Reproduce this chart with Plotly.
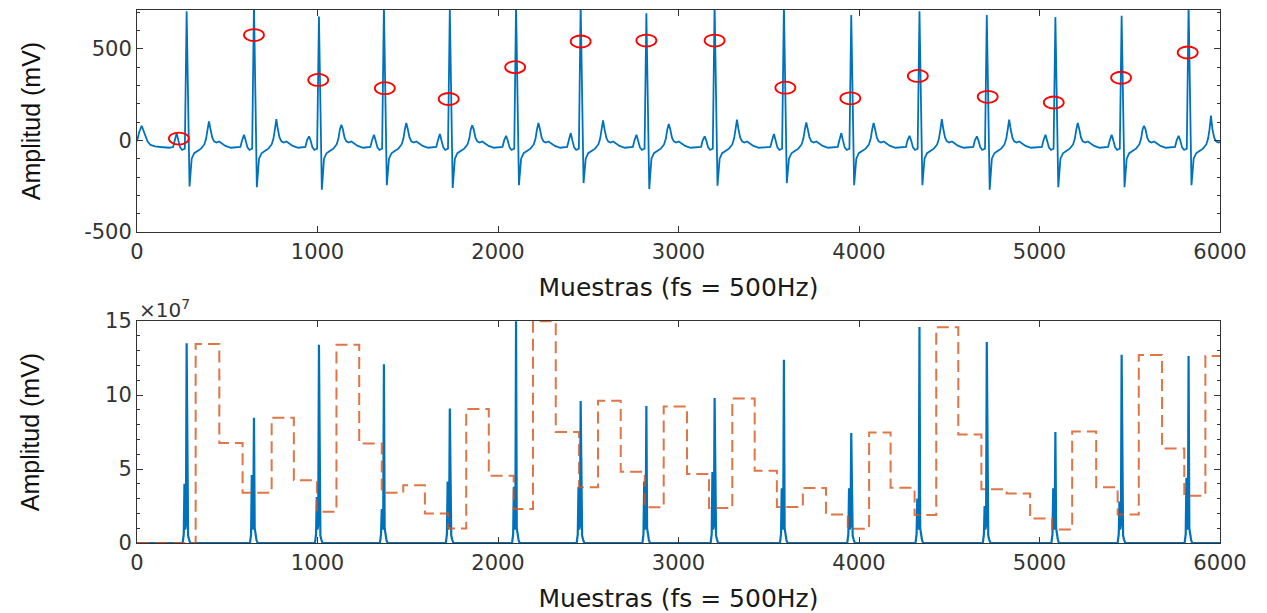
import plotly.graph_objects as go
from plotly.subplots import make_subplots

# ---------------- data ----------------
# R-peak sample positions and per-beat wave amplitudes (mV)
r_peaks = [275, 648, 1008, 1368, 1733, 2100, 2458, 2822, 3200, 3584, 3957, 4335, 4708, 5088, 5455, 5826]
r_amp = [705, 745, 676, 735, 715, 740, 740, 694, 745, 740, 685, 705, 685, 673, 680, 740]
s_amp = [-251, -255, -269, -245, -260, -245, -233, -265, -247, -233, -245, -245, -269, -256, -256, -245]
t_amp = [104, 116, 85, 95, 82, 95, 109, 89, 113, 98, 95, 116, 113, 95, 80, 135]
p_amp = [40, 31, 22, 31, 35, 25, 40, 31, 22, 35, 40, 25, 22, 31, 31, 25]

# common beat outline: sample offsets from R and values (letters = per-beat amplitude)
beat_offsets = [-95, -75, -66, -55, -46, -36, -25, -10, 0, 16, 28, 42, 60, 80, 98, 108, 116, 124, 132,
                142, 152, 165, 180, 195, 215, 245]
beat_values = [-40, -36, 0, "P", 0, -38, -52, -45, "R", "S", -100, -70, -58, -45, -22, 10, 60, "T", 62,
               15, -5, -12, -6, -18, -30, -40]

# start of the record (tail of the preceding beat)
lead_x = [0, 12, 26, 42, 58, 75, 100, 130, 160]
lead_y = [-5, 45, 80, 35, -5, -25, -32, -36, -40]

# detected peaks (red circles)
peak_x = [232, 648, 1004, 1373, 1727, 2095, 2458, 2822, 3200, 3592, 3952, 4326, 4713, 5079, 5452, 5821]
peak_y = [10, 575, 330, 285, 226, 400, 540, 545, 545, 288, 230, 352, 238, 207, 342, 480]

# energy signal (x 1e7): main spike and secondary spike per beat
e_peak = [13.5, 8.47, 13.4, 12.07, 9.08, 14.98, 9.6, 9.26, 9.8, 12.39, 7.43, 14.6, 13.58, 7.5, 12.72, 12.63]
e_second = [4.0, 4.6, 3.1, 2.3, 4.15, 3.8, 3.8, 4.15, 4.8, 3.7, 3.7, 3.0, 2.5, 3.7, 2.8, 4.4]
burst_offsets = [-22, -16, -12, -8, -4, 0, 4, 8, 14, 20]
burst_values = [0, 0.6, "second", 0.9, 1.2, "peak", 1.0, 0.5, 0.2, 0]

# adaptive threshold (x 1e7): step start samples and levels
thr_x = [0, 325, 456, 585, 746, 869, 997, 1105, 1231, 1356, 1475, 1595, 1724, 1824, 1949, 2087,
         2194, 2320, 2449, 2554, 2680, 2813, 2918, 3047, 3169, 3298, 3422, 3545, 3689, 3817, 3938,
         4056, 4175, 4308, 4428, 4550, 4678, 4818, 4948, 5070, 5181, 5314, 5433, 5550, 5679, 5802, 5919]
thr_v = [0, 13.45, 6.76, 3.40, 8.46, 4.24, 2.12, 13.40, 6.72, 3.40, 3.90, 1.99, 0.98, 9.06, 4.55, 2.30,
         14.98, 7.50, 3.77, 9.62, 4.82, 2.41, 9.22, 4.67, 2.37, 9.77, 4.89, 2.44, 3.71, 1.92, 0.96,
         7.46, 3.73, 1.90, 14.57, 7.33, 3.64, 3.35, 1.65, 0.92, 7.54, 3.77, 1.92, 12.70, 6.38, 3.19, 12.63]

n_samples = 6000
x_ticks = [0, 1000, 2000, 3000, 4000, 5000, 6000]
y1_ticks = [-500, 0, 500]
y2_ticks = [0, 5, 10, 15]
scale2 = 1e7

# ---------------- assemble series ----------------
ecg_x, ecg_y = list(lead_x), list(lead_y)
for i, r in enumerate(r_peaks):
    amps = {"P": p_amp[i], "R": r_amp[i], "S": s_amp[i], "T": t_amp[i]}
    for off, val in zip(beat_offsets, beat_values):
        ecg_x.append(r + off)
        ecg_y.append(amps[val] if isinstance(val, str) else val)

en_x, en_y = [0], [0]
for i, r in enumerate(r_peaks):
    amps = {"peak": e_peak[i], "second": e_second[i]}
    for off, val in zip(burst_offsets, burst_values):
        en_x.append(r + off)
        en_y.append((amps[val] if isinstance(val, str) else val) * scale2)
en_x.append(n_samples)
en_y.append(0)

th_x = thr_x + [n_samples]
th_y = [v * scale2 for v in thr_v + [thr_v[-1]]]

# ---------------- figure ----------------
BLUE = "#0072BD"
ORANGE = "#D95319"
AX = "#333333"
TICKFONT = dict(family="DejaVu Sans", size=21, color=AX)
LABFONT = dict(family="DejaVu Sans", size=25, color="#1a1a1a")
YLABFONT = dict(family="Liberation Sans, Arial", size=25, color="#111111")

fig = make_subplots(rows=2, cols=1)

fig.add_trace(go.Scatter(x=ecg_x, y=ecg_y, mode="lines",
                         line=dict(color=BLUE, width=1.8), showlegend=False), row=1, col=1)

fig.add_trace(go.Scatter(x=en_x, y=en_y, mode="lines",
                         line=dict(color=BLUE, width=2.2), showlegend=False), row=2, col=1)
fig.add_trace(go.Scatter(x=th_x, y=th_y, mode="lines", line_shape="hv",
                         line=dict(color=ORANGE, width=2, dash="12px,6px"), opacity=0.8,
                         showlegend=False), row=2, col=1)

# red ellipse markers anchored on the detected peak values
for px, py in zip(peak_x, peak_y):
    fig.add_shape(type="circle", xref="x", yref="y", xsizemode="pixel", ysizemode="pixel",
                  xanchor=px, yanchor=py, x0=-10, x1=10, y0=-6, y1=6,
                  line=dict(color="#FF0000", width=1.8), layer="above")

common_x = dict(range=[0, n_samples], tickvals=x_ticks, ticks="inside", ticklen=6, tickwidth=1,
                tickcolor=AX, showline=True, linecolor=AX, linewidth=1, mirror="allticks",
                showgrid=False, zeroline=False, tickfont=TICKFONT, ticklabelstandoff=1,
                automargin=False)
fig.update_xaxes(**common_x)
fig.update_xaxes(title=dict(text="Muestras (fs = 500Hz)", font=LABFONT, standoff=15), row=1, col=1)
fig.update_xaxes(title=dict(text="Muestras (fs = 500Hz)", font=LABFONT, standoff=15), row=2, col=1)

common_y = dict(ticks="inside", ticklen=6, tickwidth=1, tickcolor=AX, showline=True, linecolor=AX,
                linewidth=1, mirror="allticks", showgrid=False, zeroline=False, tickfont=TICKFONT,
                ticklabelstandoff=0, automargin=False)
fig.update_yaxes(**common_y)
fig.update_yaxes(range=[-500, 712], tickvals=y1_ticks, ticktext=[str(v) for v in y1_ticks],
                 minor=dict(ticks="inside", ticklen=3, dtick=100, tickcolor=AX, showgrid=False),
                 title=dict(text="Amplitud (mV)", font=YLABFONT, standoff=36), row=1, col=1)
fig.update_yaxes(range=[0, 15 * scale2], tickvals=[v * scale2 for v in y2_ticks],
                 ticktext=[str(v) for v in y2_ticks],
                 minor=dict(ticks="inside", ticklen=3, dtick=scale2, tickcolor=AX, showgrid=False),
                 title=dict(text="Amplitud (mV)", font=YLABFONT, standoff=58), row=2, col=1)

# the page body adds an 8 px offset, so margins are shifted accordingly
fig.update_layout(
    width=1267, height=613,
    margin=dict(l=129, r=55, t=2, b=78, autoexpand=False),
    paper_bgcolor="white", plot_bgcolor="white",
    showlegend=False,
    xaxis=dict(domain=[0, 1]), xaxis2=dict(domain=[0, 1]),
    yaxis=dict(domain=[0.5835, 1.0]), yaxis2=dict(domain=[0.0, 0.4165]),
)

fig.add_annotation(text="×10<sup>7</sup>", xref="x2 domain", yref="y2 domain", x=0.0, y=1.0,
                   xanchor="left", yanchor="bottom", showarrow=False, yshift=-3, xshift=0,
                   font=dict(family="DejaVu Sans", size=20, color=AX))

fig.write_html("out.html")
